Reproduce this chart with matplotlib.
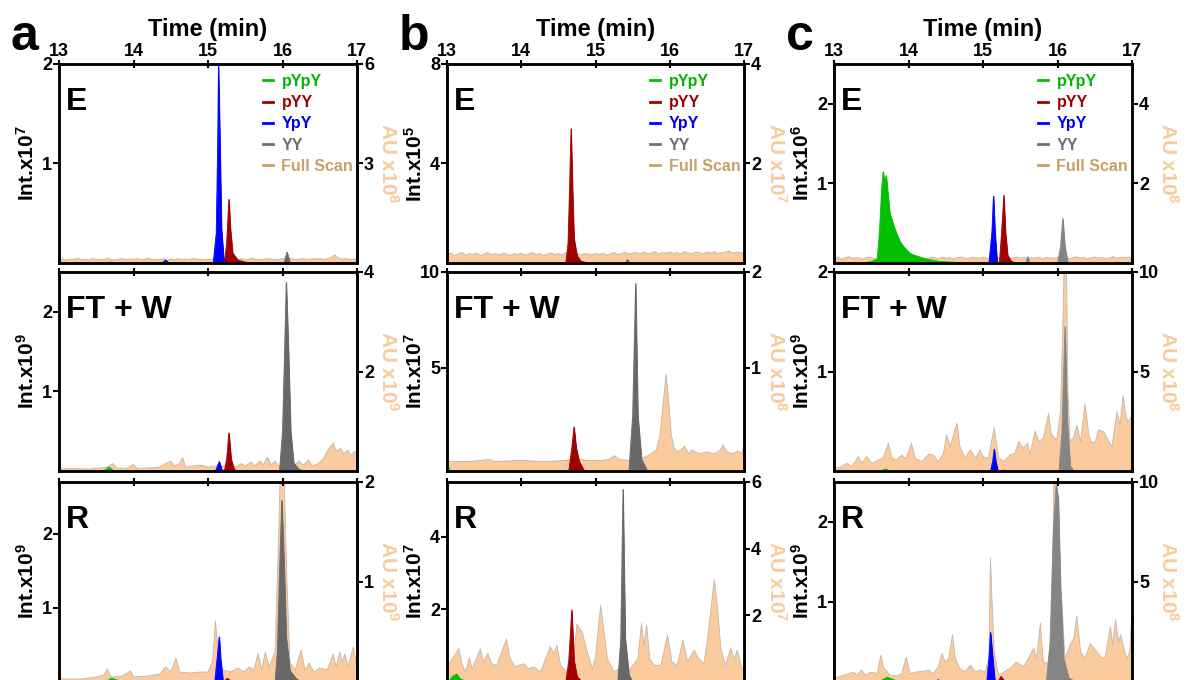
import numpy as np
import matplotlib
matplotlib.use("Agg")
import matplotlib.pyplot as plt
from matplotlib.lines import Line2D

plt.rcParams['font.family'] = ['Liberation Sans', 'DejaVu Sans']
plt.rcParams['font.weight'] = 'bold'
plt.rcParams['mathtext.fontset'] = 'custom'
plt.rcParams['mathtext.rm'] = 'Liberation Sans:bold'
plt.rcParams['mathtext.bf'] = 'Liberation Sans:bold'
plt.rcParams['mathtext.default'] = 'rm'

# ---------------- data ----------------
time_ticks = [13, 14, 15, 16, 17]
series_names = ['pYpY', 'pYY', 'YpY', 'YY', 'Full Scan']
panel_letters = ['a', 'b', 'c']
row_labels = ['E', 'FT + W', 'R']

# Full-scan traces for the E rows, sampled every 0.05 min from 13 to 17
fs_grid_step = 0.05
a_E_fs = [0.10,0.13,0.09,0.12,0.11,0.14,0.10,0.12,0.09,0.13,0.11,0.12,0.10,0.14,0.11,0.09,0.12,0.13,0.10,0.12,
          0.11,0.13,0.10,0.12,0.14,0.10,0.12,0.11,0.13,0.09,0.12,0.10,0.13,0.11,0.12,0.10,0.14,0.11,0.12,0.10,
          0.12,0.11,0.13,0.10,0.12,0.14,0.11,0.12,0.10,0.13,0.11,0.12,0.14,0.10,0.12,0.11,0.13,0.12,0.10,0.12,
          0.13,0.11,0.14,0.12,0.10,0.13,0.12,0.11,0.13,0.12,0.14,0.11,0.12,0.16,0.25,0.14,0.12,0.13,0.11,0.12,
          0.12]
b_E_fs = [0.17,0.20,0.15,0.18,0.21,0.16,0.19,0.17,0.20,0.15,0.18,0.21,0.17,0.19,0.16,0.20,0.18,0.15,0.19,0.17,
          0.20,0.16,0.18,0.21,0.17,0.19,0.15,0.18,0.20,0.17,0.19,0.16,0.21,0.18,0.17,0.20,0.16,0.19,0.18,0.17,
          0.19,0.17,0.20,0.16,0.18,0.21,0.17,0.19,0.22,0.18,0.20,0.21,0.18,0.22,0.19,0.20,0.23,0.18,0.21,0.20,
          0.22,0.19,0.21,0.18,0.23,0.20,0.19,0.22,0.21,0.18,0.22,0.20,0.23,0.19,0.21,0.22,0.24,0.20,0.22,0.21,
          0.20]
c_E_fs = [0.12,0.15,0.10,0.13,0.16,0.11,0.14,0.12,0.10,0.15,0.13,0.11,0.14,0.12,0.16,0.10,0.13,0.15,0.11,0.12,
          0.14,0.11,0.13,0.16,0.12,0.10,0.14,0.13,0.11,0.15,0.12,0.14,0.10,0.13,0.15,0.12,0.11,0.14,0.13,0.12,
          0.15,0.12,0.13,0.10,0.14,0.12,0.16,0.11,0.13,0.15,0.12,0.14,0.11,0.13,0.12,0.15,0.10,0.14,0.13,0.12,
          0.14,0.12,0.15,0.11,0.13,0.16,0.12,0.14,0.10,0.13,0.15,0.12,0.14,0.11,0.13,0.16,0.12,0.14,0.13,0.15,
          0.12]

# Full-scan traces for FT+W and R rows: (time, value)
a_FT_fs = [(13.0,0.04),(13.2,0.05),(13.4,0.04),(13.55,0.06),(13.65,0.08),(13.72,0.15),(13.78,0.06),(13.9,0.05),
           (14.0,0.13),(14.05,0.05),(14.2,0.06),(14.35,0.08),(14.5,0.2),(14.55,0.1),(14.62,0.15),(14.66,0.27),
           (14.7,0.08),(14.8,0.1),(14.9,0.12),(15.0,0.08),(15.1,0.1),(15.2,0.1),(15.3,0.13),(15.38,0.08),
           (15.45,0.15),(15.5,0.1),(15.58,0.18),(15.62,0.1),(15.7,0.2),(15.74,0.12),(15.8,0.28),(15.85,0.12),
           (15.9,0.2),(15.95,0.1),(16.0,0.12),(16.05,0.15),(16.15,0.1),(16.22,0.2),(16.28,0.12),(16.35,0.22),
           (16.4,0.1),(16.48,0.15),(16.55,0.25),(16.6,0.4),(16.68,0.56),(16.72,0.4),(16.78,0.45),(16.82,0.35),
           (16.88,0.42),(16.92,0.32),(16.97,0.4),(17.0,0.35)]
a_R_fs = [(13.0,0.03),(13.3,0.03),(13.5,0.05),(13.6,0.07),(13.65,0.13),(13.7,0.05),(13.85,0.06),(13.96,0.11),
          (14.0,0.05),(14.2,0.06),(14.35,0.08),(14.43,0.15),(14.5,0.1),(14.57,0.24),(14.62,0.1),(14.75,0.09),
          (14.9,0.1),(15.0,0.1),(15.06,0.2),(15.1,0.61),(15.14,0.3),(15.2,0.12),(15.3,0.1),(15.4,0.14),
          (15.48,0.1),(15.55,0.15),(15.62,0.12),(15.67,0.29),(15.72,0.12),(15.77,0.3),(15.82,0.15),(15.9,0.3),
          (15.95,1.5),(15.97,2.1),(16.02,2.1),(16.06,1.0),(16.1,0.2),(16.17,0.12),(16.25,0.32),(16.3,0.12),
          (16.36,0.19),(16.42,0.1),(16.5,0.14),(16.6,0.12),(16.68,0.28),(16.72,0.15),(16.77,0.3),(16.8,0.2),
          (16.84,0.28),(16.88,0.15),(16.95,0.35),(17.0,0.14)]
b_FT_fs = [(13.0,0.02),(13.3,0.02),(13.58,0.04),(13.62,0.02),(14.0,0.03),(14.3,0.02),(14.6,0.03),(14.7,0.05),
           (14.9,0.03),(15.1,0.03),(15.2,0.05),(15.26,0.08),(15.32,0.04),(15.45,0.03),(15.55,0.04),(15.65,0.06),
           (15.75,0.1),(15.82,0.14),(15.87,0.3),(15.92,0.7),(15.95,0.93),(15.98,0.7),(16.02,0.3),(16.06,0.16),
           (16.1,0.12),(16.15,0.14),(16.2,0.18),(16.25,0.1),(16.3,0.14),(16.4,0.1),(16.5,0.12),(16.6,0.1),
           (16.68,0.14),(16.72,0.19),(16.77,0.12),(16.85,0.1),(16.92,0.13),(16.97,0.1),(17.0,0.19)]
b_R_fs = [(13.0,0.3),(13.02,0.5),(13.09,0.76),(13.16,1.0),(13.2,0.55),(13.25,0.3),(13.3,0.73),(13.34,0.4),
          (13.45,1.0),(13.49,0.6),(13.55,0.86),(13.6,0.55),(13.67,0.5),(13.8,1.29),(13.85,0.7),(13.92,0.45),
          (14.03,0.55),(14.1,0.4),(14.17,0.45),(14.26,0.3),(14.39,1.06),(14.44,0.86),(14.48,1.1),(14.53,0.5),
          (14.62,0.3),(14.7,0.6),(14.75,1.73),(14.82,1.5),(14.89,0.9),(14.96,0.4),(15.0,0.76),(15.07,2.3),
          (15.11,1.6),(15.16,0.7),(15.25,0.3),(15.31,0.4),(15.4,0.35),(15.47,0.4),(15.57,0.7),(15.62,1.76),
          (15.65,1.1),(15.69,1.69),(15.73,0.7),(15.79,0.5),(15.88,0.5),(15.97,1.41),(16.03,0.6),(16.1,0.5),
          (16.18,1.26),(16.24,0.6),(16.33,0.96),(16.39,0.7),(16.46,0.55),(16.51,1.3),(16.55,2.1),(16.6,3.07),
          (16.64,2.3),(16.69,1.0),(16.75,0.5),(16.82,1.0),(16.87,0.7),(16.91,0.96),(16.96,0.5),(17.0,0.3)]
c_FT_fs = [(13.0,0.13),(13.08,0.17),(13.17,0.39),(13.24,0.22),(13.33,0.72),(13.37,0.39),(13.44,0.72),(13.51,0.39),
           (13.6,0.55),(13.66,0.64),(13.73,1.4),(13.78,0.64),(13.84,0.55),(13.91,0.81),(13.96,0.6),(14.04,1.4),
           (14.09,0.64),(14.18,0.47),(14.27,0.84),(14.33,0.81),(14.4,0.47),(14.47,0.89),(14.51,1.82),(14.56,1.23),
           (14.6,1.73),(14.65,2.4),(14.69,1.23),(14.76,0.67),(14.83,1.06),(14.9,0.64),(14.96,1.06),(15.0,0.72),
           (15.07,0.64),(15.15,2.18),(15.21,0.67),(15.28,0.47),(15.36,0.81),(15.43,0.89),(15.48,1.48),(15.54,1.14),
           (15.6,1.4),(15.63,0.81),(15.7,2.0),(15.75,1.48),(15.81,1.65),(15.88,2.9),(15.92,1.82),(15.99,1.56),
           (16.04,3.0),(16.07,7.0),(16.09,10.5),(16.12,10.5),(16.14,4.0),(16.17,1.48),(16.22,1.73),(16.26,2.3),
           (16.31,1.48),(16.37,3.4),(16.42,1.82),(16.46,1.4),(16.51,1.48),(16.55,2.07),(16.62,1.98),(16.69,1.48),
           (16.73,1.23),(16.8,2.98),(16.84,2.3),(16.88,3.8),(16.91,2.98),(16.94,2.47),(16.98,2.64),(17.0,2.8)]
c_R_fs = [(13.0,0.17),(13.06,0.25),(13.13,0.34),(13.2,0.42),(13.26,0.5),(13.31,0.34),(13.37,0.6),(13.42,0.34),
          (13.5,0.5),(13.58,0.42),(13.63,1.35),(13.66,0.76),(13.75,0.34),(13.84,0.3),(13.91,0.42),(13.97,1.26),
          (14.02,0.42),(14.11,0.5),(14.2,0.54),(14.27,0.6),(14.33,0.42),(14.4,0.76),(14.45,1.43),(14.49,1.0),
          (14.54,1.18),(14.59,2.35),(14.63,1.18),(14.69,0.67),(14.76,0.5),(14.83,0.84),(14.9,0.5),(14.96,0.6),
          (15.03,0.5),(15.08,1.2),(15.1,6.2),(15.12,4.2),(15.15,1.5),(15.21,0.34),(15.28,0.5),(15.36,0.67),
          (15.45,1.0),(15.54,0.76),(15.61,1.18),(15.68,1.68),(15.72,1.18),(15.77,2.94),(15.81,1.0),(15.88,0.92),
          (15.93,3.0),(15.95,10.5),(15.99,10.5),(16.03,5.0),(16.06,3.9),(16.1,1.18),(16.17,1.85),(16.22,2.2),
          (16.26,3.3),(16.31,1.5),(16.37,1.18),(16.44,1.93),(16.53,1.5),(16.6,1.18),(16.64,1.26),(16.71,2.77),
          (16.74,1.85),(16.78,3.11),(16.82,2.0),(16.85,2.35),(16.89,1.68),(16.93,1.18),(16.97,1.5),(17.0,3.5)]

# Extracted-ion traces (time, intensity) on the left axes
a_E_pYpY = [(13.6,0.0),(13.69,0.01),(13.78,0.0)]
a_E_pYY = [(15.22,0.0),(15.25,0.2),(15.28,0.64),(15.3,0.35),(15.33,0.1),(15.4,0.03),(15.5,0.01),(15.6,0.0)]
a_E_YpY = [(14.38,0.0),(14.43,0.03),(14.48,0.0),(15.07,0.0),(15.11,0.3),(15.13,1.2),(15.14,1.98),(15.16,1.2),
           (15.18,0.35),(15.21,0.05),(15.26,0.0)]
a_E_YY = [(16.02,0.0),(16.06,0.11),(16.1,0.0)]

a_FT_pYpY = [(13.6,0.0),(13.67,0.05),(13.74,0.0)]
a_FT_pYY = [(15.22,0.0),(15.25,0.15),(15.28,0.48),(15.31,0.15),(15.35,0.02),(15.4,0.0)]
a_FT_YpY = [(15.1,0.0),(15.15,0.12),(15.19,0.0)]
a_FT_YY = [(15.96,0.0),(16.0,0.5),(16.03,1.6),(16.05,2.37),(16.08,1.5),(16.11,0.5),(16.15,0.1),(16.22,0.02),(16.3,0.0)]

a_R_pYpY = [(13.62,0.0),(13.7,0.05),(13.8,0.02),(13.9,0.0)]
a_R_pYY = [(15.2,0.0),(15.26,0.05),(15.32,0.0)]
a_R_YpY = [(14.36,0.0),(14.4,0.02),(14.44,0.0),(15.09,0.0),(15.12,0.3),(15.15,0.61),(15.17,0.3),(15.2,0.02),(15.23,0.0)]
a_R_YY = [(15.9,0.0),(15.93,0.4),(15.96,1.5),(15.99,2.45),(16.02,1.6),(16.05,0.6),(16.1,0.15),(16.2,0.03),(16.3,0.0)]

b_E_pYpY = [(13.0,0.0)]
b_E_pYY = [(14.6,0.0),(14.63,0.8),(14.65,3.0),(14.67,5.4),(14.69,3.0),(14.71,1.0),(14.75,0.3),(14.8,0.08),(14.9,0.0)]
b_E_YpY = [(13.0,0.0)]
b_E_YY = [(15.4,0.0),(15.43,0.14),(15.46,0.0)]

b_FT_pYpY = [(13.0,0.1),(13.03,0.0)]
b_FT_pYY = [(14.64,0.0),(14.68,0.8),(14.71,1.9),(14.74,0.8),(14.78,0.1),(14.85,0.0)]
b_FT_YpY = [(13.0,0.0)]
b_FT_YY = [(15.45,0.0),(15.5,2.5),(15.54,9.4),(15.57,2.5),(15.62,0.2),(15.7,0.0)]

b_R_pYpY = [(13.02,0.0),(13.07,0.15),(13.13,0.22),(13.17,0.1),(13.25,0.02),(13.35,0.0)]
b_R_pYY = [(14.6,0.0),(14.64,0.6),(14.68,1.98),(14.71,0.6),(14.75,0.15),(14.82,0.0)]
b_R_YpY = [(13.0,0.0)]
b_R_YY = [(15.3,0.0),(15.34,1.2),(15.37,5.3),(15.4,1.2),(15.45,0.2),(15.5,0.0)]

c_E_pYpY = [(13.4,0.0),(13.5,0.02),(13.58,0.05),(13.61,0.4),(13.64,0.95),(13.66,1.15),(13.68,1.0),(13.7,1.1),
            (13.72,0.9),(13.75,0.62),(13.79,0.5),(13.84,0.37),(13.88,0.28),(13.93,0.21),(14.02,0.12),(14.1,0.09),
            (14.2,0.06),(14.3,0.04),(14.42,0.02),(14.6,0.01),(14.8,0.0)]
c_E_pYY = [(15.22,0.0),(15.25,0.4),(15.28,0.85),(15.3,0.4),(15.33,0.1),(15.38,0.02),(15.45,0.0)]
c_E_YpY = [(15.08,0.0),(15.12,0.4),(15.14,0.84),(15.16,0.4),(15.19,0.0)]
c_E_YY = [(15.57,0.0),(15.6,0.08),(15.63,0.0),(16.0,0.0),(16.04,0.2),(16.07,0.56),(16.1,0.2),(16.14,0.0)]

c_FT_pYpY = [(13.62,0.0),(13.69,0.02),(13.76,0.0)]
c_FT_pYY = [(15.26,0.0),(15.29,0.01),(15.32,0.0)]
c_FT_YpY = [(15.1,0.0),(15.13,0.1),(15.15,0.22),(15.17,0.1),(15.2,0.0)]
c_FT_YY = [(16.02,0.0),(16.06,0.4),(16.1,1.45),(16.13,0.5),(16.17,0.05),(16.22,0.0)]

c_R_pYpY = [(13.6,0.0),(13.65,0.03),(13.71,0.06),(13.8,0.03),(13.9,0.0)]
c_R_pYY = [(15.2,0.0),(15.24,0.07),(15.3,0.0)]
c_R_YpY = [(14.37,0.0),(14.4,0.03),(14.43,0.0),(15.05,0.0),(15.08,0.3),(15.1,0.62),(15.13,0.3),(15.16,0.0)]
c_R_YY = [(15.85,0.0),(15.9,0.5),(15.94,1.8),(15.98,2.46),(16.01,2.3),(16.04,1.2),(16.08,0.3),(16.15,0.05),(16.25,0.0)]

# Axis ranges, ticks and exponents [panel][row]
left_ylim = [[(0, 2), (0, 2.5), (0, 2.7)],
             [(0, 8), (-0.4, 10), (0, 5.5)],
             [(0, 2.5), (0, 2), (0, 2.5)]]
right_ylim = [[(0, 6), (0, 4), (0, 2)],
              [(0, 4), (-0.08, 2), (0, 6)],
              [(0, 5), (0, 10), (0, 10)]]
left_ticks = [[[1, 2], [1, 2], [1, 2]],
              [[4, 8], [5, 10], [2, 4]],
              [[1, 2], [1, 2], [1, 2]]]
right_ticks = [[[3, 6], [2, 4], [1, 2]],
               [[2, 4], [1, 2], [2, 4, 6]],
               [[2, 4], [5, 10], [5, 10]]]
left_exp = [[7, 9, 9], [5, 7, 7], [6, 9, 9]]
right_exp = [[8, 9, 9], [7, 8, 7], [8, 8, 8]]

# ---------------- style ----------------
W, H = 1188, 680
col_px = [(59, 357), (447, 744), (834, 1132)]
row_px = [(64, 263), (272, 471), (482, 682)]
int_x_px = [27, 415, 802]
au_x_px = [388, 776, 1168]
gray_cols = ['#686868', '#686868', '#858585']
fs_color = '#FCCB9D'
fs_edge = '#C4B6A8'
trace_colors = {'pYpY': '#00C000', 'pYY': '#A00000', 'YpY': '#0000FF'}
legend_text_colors = ['#00B400', '#A00000', '#0000E6', '#6E6E6E', '#C9A068']
legend_line_colors = ['#00C000', '#A00000', '#0000FF', '#6E6E6E', '#C9A068']

fs_grid = np.round(13 + fs_grid_step * np.arange(len(a_E_fs)), 3)
E_fs = [a_E_fs, b_E_fs, c_E_fs]
other_fs = [[a_FT_fs, a_R_fs], [b_FT_fs, b_R_fs], [c_FT_fs, c_R_fs]]
traces = [[[a_E_pYpY, a_E_pYY, a_E_YpY, a_E_YY],
           [a_FT_pYpY, a_FT_pYY, a_FT_YpY, a_FT_YY],
           [a_R_pYpY, a_R_pYY, a_R_YpY, a_R_YY]],
          [[b_E_pYpY, b_E_pYY, b_E_YpY, b_E_YY],
           [b_FT_pYpY, b_FT_pYY, b_FT_YpY, b_FT_YY],
           [b_R_pYpY, b_R_pYY, b_R_YpY, b_R_YY]],
          [[c_E_pYpY, c_E_pYY, c_E_YpY, c_E_YY],
           [c_FT_pYpY, c_FT_pYY, c_FT_YpY, c_FT_YY],
           [c_R_pYpY, c_R_pYY, c_R_YpY, c_R_YY]]]


def pad(pts):
    t = [p[0] for p in pts]
    v = [p[1] for p in pts]
    if t[0] > 13:
        t = [13.0] + t
        v = [0.0] + v
    if t[-1] < 17:
        t = t + [17.0]
        v = v + [0.0]
    return np.array(t), np.array(v)


fig = plt.figure(figsize=(W / 100, H / 100), dpi=100)
tick_fs = 13
for p in range(3):
    x0, x1 = col_px[p]
    for r in range(3):
        y0, y1 = row_px[r]
        ax = fig.add_axes([x0 / W, 1 - y1 / H, (x1 - x0) / W, (y1 - y0) / H])
        tw = ax.twinx()
        ax.set_zorder(tw.get_zorder() + 1)
        ax.patch.set_visible(False)
        lb = left_ylim[p][r][0]
        rb = right_ylim[p][r][0]

        # full scan on right axis
        if r == 0:
            t, v = fs_grid, np.array(E_fs[p])
        else:
            t, v = pad(other_fs[p][r - 1])
        v = np.where(v <= 0, rb, v)
        tw.fill_between(t, v, rb, facecolor=fs_color, edgecolor='none', lw=0)
        tw.plot(t, v, color=fs_edge, lw=0.6)

        # extracted-ion traces on left axis (baseline drawn at the axis floor)
        cols = [trace_colors['pYpY'], trace_colors['pYY'], trace_colors['YpY'], gray_cols[p]]
        for k, pts in enumerate(traces[p][r]):
            tt, vv = pad(pts)
            vv = np.where(vv <= 0, lb, vv)
            ax.fill_between(tt, vv, lb, facecolor=cols[k], edgecolor=cols[k], lw=0.6)
            ax.plot(tt, vv, color=cols[k], lw=0.6)

        ax.set_xlim(13, 17)
        ax.set_ylim(*left_ylim[p][r])
        tw.set_ylim(*right_ylim[p][r])
        ax.set_xticks(time_ticks)
        ax.xaxis.tick_top()
        if r == 0:
            ax.set_xticklabels([str(x) for x in time_ticks], fontsize=tick_fs, fontweight='bold')
        else:
            ax.set_xticklabels([])
        ax.set_yticks(left_ticks[p][r])
        ax.set_yticklabels([str(x) for x in left_ticks[p][r]], fontsize=tick_fs, fontweight='bold')
        tw.set_yticks(right_ticks[p][r])
        tw.set_yticklabels([str(x) for x in right_ticks[p][r]], fontsize=tick_fs, fontweight='bold')
        for a_ in (ax, tw):
            a_.tick_params(axis='y', direction='out', length=4, width=1.5, pad=1)
            for s in a_.spines.values():
                s.set_linewidth(1.8)
        ax.tick_params(axis='x', direction='inout', length=6, width=1.5, pad=0)

        ax.text(0.022, 0.885, row_labels[r], transform=ax.transAxes, fontsize=23,
                fontweight='bold', va='top', ha='left')

        yc = 1 - (y0 + min(y1, 680)) / 2 / H
        fig.text(int_x_px[p] / W, yc, 'Int.x10$^{%d}$' % left_exp[p][r], rotation=90,
                 ha='center', va='center', fontsize=15, fontweight='bold')
        fig.text(au_x_px[p] / W, yc, 'AU x10$^{%d}$' % right_exp[p][r], rotation=270,
                 ha='center', va='center', fontsize=15, fontweight='bold', color='#F9CB9C')

        if r == 0:
            handles = [Line2D([], [], color=c, lw=2) for c in legend_line_colors]
            leg = ax.legend(handles, series_names, loc='upper left', bbox_to_anchor=(0.685, 0.95),
                            frameon=False, handlelength=0.6, handletextpad=0.55, labelspacing=0.39,
                            borderpad=0, borderaxespad=0, prop={'size': 11.5, 'weight': 'bold'})
            for txt, c in zip(leg.get_texts(), legend_text_colors):
                txt.set_color(c)

    fig.text((x0 + x1) / 2 / W, 1 - 36 / H, 'Time (min)', ha='center', va='baseline',
             fontsize=17, fontweight='bold')
    fig.text((x0 - 48) / W, 1 - 50 / H, panel_letters[p], ha='left', va='baseline',
             fontsize=36, fontweight='bold')

fig.savefig('out.png', dpi=100)
